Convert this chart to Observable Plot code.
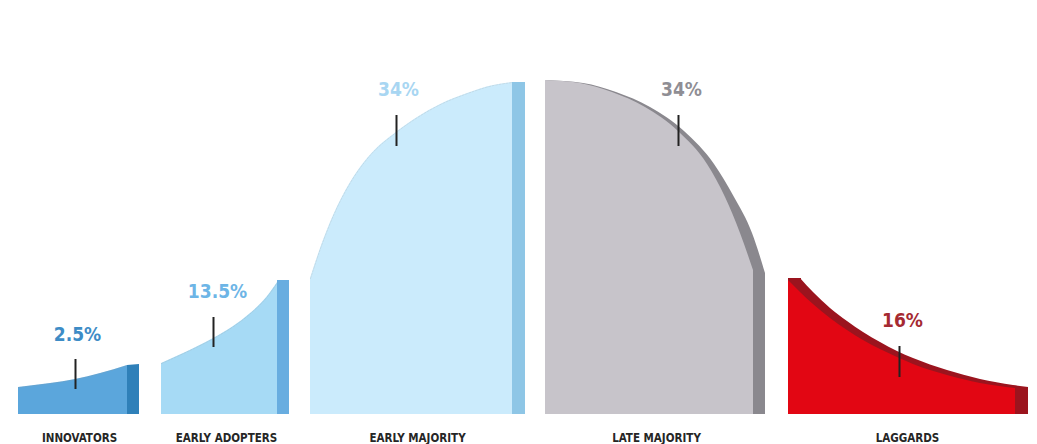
<!DOCTYPE html>
<html><head><meta charset="utf-8">
<script src="https://cdn.jsdelivr.net/npm/d3@7"></script>
<script src="https://cdn.jsdelivr.net/npm/@observablehq/plot@0.6"></script>
<style>body{margin:0;background:#fff}</style>
</head><body><div id="chart"></div><script>
// Categories and their shares
const categories = ["INNOVATORS", "EARLY ADOPTERS", "EARLY MAJORITY", "LATE MAJORITY", "LAGGARDS"];
const shares = ["2.5%", "13.5%", "34%", "34%", "16%"];
const categoryCenter = [79, 226, 417, 656, 907];

// Curve samples (position, height)
const innovatorsX = [18, 50, 75, 100, 127];
const innovatorsH = [27, 31, 35, 41, 49];
const innovatorsBandX = [127, 139];
const innovatorsBandH = [49, 50];
const adoptersX = [161, 183, 213, 233, 250, 267, 277];
const adoptersH = [51, 61, 76, 88, 101, 118, 132];
const adoptersBandX = [277, 289];
const adoptersBandH = [134, 134];
const earlyMajX = [310, 320, 333, 350, 367, 397, 417, 440, 467, 493, 512];
const earlyMajH = [136, 166, 199, 232, 256, 283, 297, 310, 321, 329, 332];
const earlyMajBandX = [512, 525];
const earlyMajBandH = [332, 332];
const lateMajX = [545, 580, 612, 645, 678, 707, 725, 740, 753];
const lateMajH = [334, 331, 322, 307, 283, 250, 217, 181, 144];
const lateMajShadowX = [545, 583, 616, 650, 684, 714, 734, 752, 765];
const lateMajShadowH = [334, 331, 322, 307, 283, 250, 217, 181, 141];
const laggardsX = [788, 800, 813, 830, 847, 863, 880, 897, 913, 947, 980, 1015];
const laggardsH = [134, 122, 110, 96, 84, 74, 65, 57, 50, 39, 31, 26];
const laggardsCapX = [788, 801];
const laggardsCapH = [136, 136];
const laggardsShadowX = [800, 813, 830, 847, 863, 880, 897, 913, 947, 980, 1013, 1028];
const laggardsShadowH = [136, 122, 106, 93, 82, 72, 63, 56, 44, 35, 29, 27];

// Tick marks and label positions
const tickX = [75, 213, 396, 678, 899];
const tickLow = [25, 67, 268, 268, 37];
const tickHigh = [55, 97, 299, 299, 68];
const shareX = [77, 217, 398, 681, 902];
const shareH = [79.5, 122.5, 324.5, 324.5, 93.5];

// Colours
const lightColors = ["#5ba6dc", "#a6daf5", "#cbebfc", "#c7c4ca", "#e20613"];
const darkColors = ["#2f80b9", "#68ade0", "#8ec6e6", "#8a888e", "#9b141e"];
const shareColors = ["#3d8cc6", "#6db5e6", "#a8d6f2", "#8f8e94", "#a52a32"];

const pts = (xs, hs) => xs.map((x, i) => ({x, h: hs[i]}));
const back = [
  pts(innovatorsBandX, innovatorsBandH),
  pts(adoptersBandX, adoptersBandH),
  pts(earlyMajBandX, earlyMajBandH),
  pts(lateMajShadowX, lateMajShadowH),
  pts(laggardsShadowX, laggardsShadowH)
];
const front = [
  pts(innovatorsX, innovatorsH),
  pts(adoptersX, adoptersH),
  pts(earlyMajX, earlyMajH),
  pts(lateMajX, lateMajH),
  pts(laggardsX, laggardsH)
];
const ticks = tickX.map((x, i) => ({x, y1: tickLow[i], y2: tickHigh[i]}));
const shareData = shares.map((s, i) => ({s, x: shareX[i], h: shareH[i], c: shareColors[i]}));
const catData = categories.map((c, i) => ({c, x: categoryCenter[i]}));

const font = "'DejaVu Sans Condensed', 'DejaVu Sans', sans-serif";
const marks = [];
back.forEach((d, i) => marks.push(Plot.areaY(d, {x: "x", y: "h", fill: darkColors[i], curve: "monotone-x"})));
marks.push(Plot.areaY(pts(laggardsCapX, laggardsCapH), {x: "x", y: "h", fill: darkColors[4]}));
front.forEach((d, i) => marks.push(Plot.areaY(d, {x: "x", y: "h", fill: lightColors[i], curve: "monotone-x"})));
[0, 1, 2].forEach(i => marks.push(Plot.line(front[i], {x: "x", y: "h", stroke: "#999", strokeWidth: 0.6, strokeOpacity: 0.35, strokeDasharray: "2,1.5", curve: "monotone-x"})));
marks.push(Plot.ruleX(ticks, {x: "x", y1: "y1", y2: "y2", stroke: "#222", strokeWidth: 2}));
marks.push(Plot.text(shareData, {x: "x", y: "h", text: "s", fill: "c", fontSize: 19, fontWeight: "bold", fontFamily: font}));
marks.push(Plot.text(catData, {x: "x", y: () => 0, dy: 24, text: "c", fill: "#262626", fontSize: 11.5, fontWeight: "bold", fontFamily: font}));

const chart = Plot.plot({
  width: 1037, height: 444,
  marginTop: 0, marginBottom: 30, marginLeft: 0, marginRight: 0,
  x: {domain: [0, 1037], axis: null},
  y: {domain: [0, 414], axis: null},
  style: {background: "#fff"},
  marks
});
document.getElementById("chart").append(chart);
</script></body></html>
